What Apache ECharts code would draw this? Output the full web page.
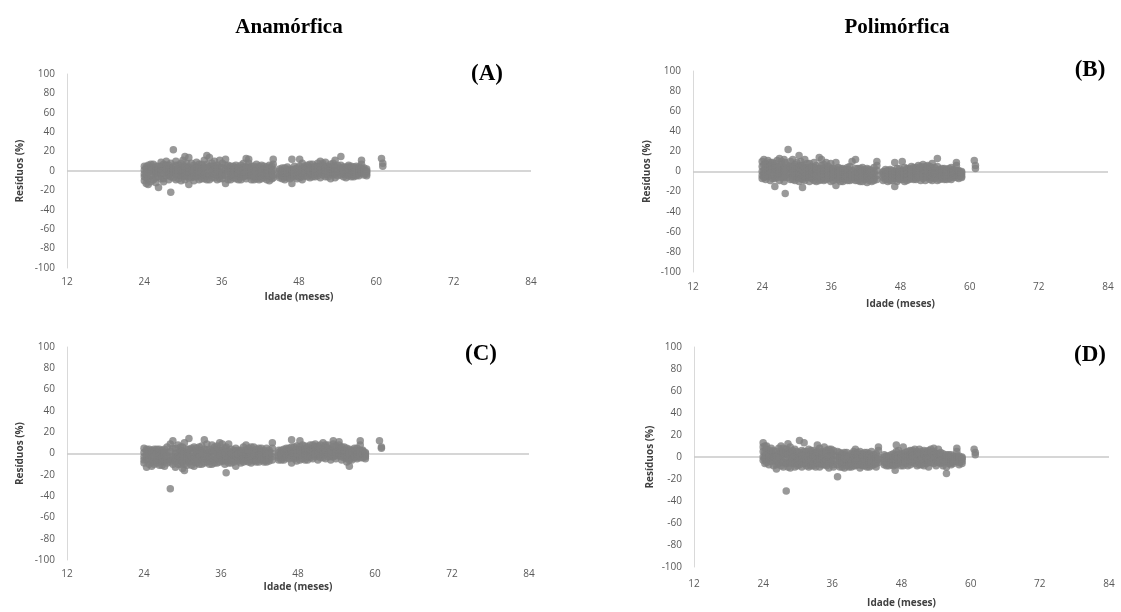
<!DOCTYPE html>
<html>
<head>
<meta charset="utf-8">
<script src="https://cdn.jsdelivr.net/npm/echarts@6/dist/echarts.min.js"></script>
<style>
  html, body { margin: 0; padding: 0; background: #ffffff; }
  #chart { width: 1121px; height: 612px; }
</style>
</head>
<body>
<div id="chart"></div>
<script>
// Residuals (%) by age (months). Each row: [age, residual, residual, ...]
const residA = [
  [24.0, -3, 5, -10, 1, -6], [24.3, 2, -7, -13, -3, 4], [24.6, 6, -1, -14, -8, 2], [25.0, 0, -5, 4, -11, 7],
  [25.4, -9, 3, 7, -4, 0], [25.8, -2, -12, 1, 5, -7], [26.2, 5, -6, -17, -1, 2], [26.6, 9, -3, 1, -8, 5],
  [27.0, 3, -8, -11, -2, 7], [27.4, 10, -1, 6, -5, 2], [27.8, -4, 2, -9, 6, -1], [28.1, -22, 8, -2, 3, -6],
  [28.5, 22, 4, -7, -1, 1], [28.9, 10, -3, 1, 6, -9], [29.3, -8, 6, -1, 2, -4], [29.7, 3, -10, 8, -5, 0],
  [30.0, -5, 1, 11, -2, 5], [30.3, 15, -2, -9, 4, -5], [30.6, 5, -6, 2, -1, 8], [30.9, 14, -14, -1, 3, -7],
  [31.3, 3, -7, 8, -2, 1], [31.7, -3, 6, -10, 2, -6], [32.1, 1, -6, 9, -2, 4], [32.5, -9, 4, -2, 7, -5],
  [32.9, 7, -4, 2, -8, 0], [33.3, 11, -8, -1, 4, -4], [33.7, 16, 3, -5, -9, 7], [34.1, 14, 0, -9, 5, -4],
  [34.5, 8, -3, 5, -7, 1], [34.9, -7, 2, 10, -3, 5], [35.3, 0, -9, 6, -4, 3], [35.7, 4, -5, 11, -1, -8],
  [36.1, -2, 8, -8, 3, -5], [36.6, 12, -13, 1, -4, 6], [37.0, 3, -6, 6, -9, 0], [37.4, -4, 2, -9, 5, -1],
  [37.8, 5, -2, -7, 1, -4], [38.2, 0, -8, 3, -4, 6], [38.6, -5, 1, 4, -9, -2], [39.0, 6, -9, -3, 2, -6],
  [39.4, -6, 2, 8, -2, 4], [39.8, 13, -2, -8, 4, -5], [40.2, 12, 4, -5, -1, 8], [40.6, -1, -9, 5, -5, 2],
  [41.0, 2, -6, -1, -9, 5], [41.4, 7, -8, 1, -3, 3], [41.8, -3, 5, -9, 0, -6], [42.2, 6, -4, 0, -8, 2],
  [42.6, -7, 2, -2, 5, -4], [43.0, 1, -9, 4, -5, -2], [43.4, -5, 3, -10, 0, 6], [43.8, 5, -2, -8, -5, 1],
  [44.0, 12, 7, -4, 1, -7], [45.0, -3, -7, 2, -5, 0], [45.4, -5, 0, -8, -2, 3], [45.8, 3, -6, -2, -9, 0],
  [46.2, -4, 1, -7, -1, 4], [46.6, 2, -5, -1, -8, 0], [46.9, -13, 12, -3, -6, 1], [47.3, 0, -6, 5, -3, 2],
  [47.7, -2, 3, -8, 1, -5], [48.1, 12, -4, 1, -7, 5], [48.5, 8, -9, -3, 2, -6], [48.9, 3, -5, 0, 5, -2],
  [49.3, -2, 6, -6, 1, 3], [49.7, 4, -1, -4, 7, -7], [50.1, 1, -6, 7, -3, 3], [50.5, -3, 5, -1, 2, -6],
  [50.9, 8, 2, -5, -2, 5], [51.3, -2, 10, -7, 4, 1], [51.7, 6, -4, 1, -1, 8], [52.1, 9, -3, 3, -6, 0],
  [52.5, -6, 0, 5, 2, -3], [52.9, 2, -8, 7, -2, 4], [53.3, -4, 4, -2, 8, 1], [53.6, 11, -7, 1, -3, 5],
  [54.0, 3, -5, 6, -1, 0], [54.5, 15, -1, -4, 3, 6], [54.9, 2, -6, 4, -3, 0], [55.3, -3, 1, -7, 4, -1],
  [55.7, 4, -2, -5, 1, 6], [56.1, 0, 3, -6, -3, 5], [56.5, 2, -4, -1, 4, -6], [56.9, -5, 5, -2, 0, 2],
  [57.3, 1, -3, 4, -5, -1], [57.7, 11, 7, -2, 3, 0], [58.1, -4, 0, 3, -2, 1], [58.5, -1, 2, -5, -3, 0],
  [60.8, 13], [61.0, 8, 5]
];

const residB = [
  [24.0, 5, -4, 10, 0, -7], [24.3, 12, -6, 1, 7, -2], [24.6, 8, -2, -8, 3, -5], [25.0, 3, 11, -5, -1, 6],
  [25.4, -1, 6, -9, 2, 9], [25.8, 9, -4, 2, -7, 5], [26.2, -15, 4, -7, 0, 8], [26.6, 11, 0, -3, 5, -6],
  [27.0, 13, -9, 5, -2, 1], [27.4, 7, -2, 2, 10, -6], [27.8, 12, -6, -10, 3, 0], [28.0, -22, 4, 9, -4, 1],
  [28.5, 22, -1, 6, -6, 3], [28.9, 10, -8, 2, 5, -3], [29.3, 5, -4, 12, 0, -8], [29.7, -9, 0, 7, 3, -4],
  [30.0, 3, -6, 9, -2, 5], [30.4, 16, -2, -10, 4, -6], [30.7, 10, 2, -7, -3, 6], [31.0, -16, 6, -4, 1, -8],
  [31.4, 12, -1, -9, 4, -5], [31.8, 4, -6, 1, 8, -3], [32.2, -3, 8, -10, 2, -6], [32.6, 5, -7, 0, -3, 3],
  [33.0, 9, -2, -9, 4, -5], [33.4, 1, -10, 6, -4, 3], [33.9, 14, 3, -5, -9, 0], [34.3, 12, -3, -8, 2, 6],
  [34.7, 7, -9, 0, -5, 3], [35.1, -4, 2, 9, -8, -1], [35.5, 5, -7, -1, 2, -4], [35.9, -2, 8, -10, -6, 3],
  [36.3, 3, -5, 1, -9, -2], [36.8, -14, 9, -3, -7, 2], [37.2, -8, 4, -1, -5, 1], [37.6, 1, -6, -10, -3, 3],
  [38.0, -3, 3, -7, -10, 0], [38.4, -8, 0, -4, 2, -6], [38.8, 2, -9, -5, -1, 4], [39.2, -6, 1, 5, -9, -3],
  [39.6, 10, -3, -8, 1, -5], [40.2, 12, -1, -6, 3, -9], [40.6, -9, 3, -4, -1, -6], [41.0, 1, -7, -2, -10, 3],
  [41.4, 4, -10, -5, -2, 0], [41.8, -3, 0, -8, 2, -6], [42.2, 3, -6, -11, -1, -4], [42.6, -2, 2, -9, -6, 0],
  [43.0, -5, 1, -10, -7, -2], [43.4, 0, -7, 4, -3, -9], [43.9, 10, -4, 6, -8, 1], [45.0, -6, -1, -9, -3, 0],
  [45.4, -3, -8, 0, -5, 2], [45.8, -5, -10, -2, -7, 1], [46.2, 2, -7, -4, -9, -1], [46.6, -1, -6, -9, -3, 1],
  [47.0, -15, 9, -3, -7, 0], [47.4, -7, 0, -10, -4, 3], [47.8, 3, -5, -2, -8, 0], [48.3, 10, -8, 1, -4, -1],
  [48.7, 4, -3, -10, -6, 0], [49.1, -6, 1, -2, -9, 3], [49.5, 3, -8, -4, 0, -1], [49.9, -1, 5, -7, -3, 2],
  [50.3, 2, -5, 0, -8, 4], [50.7, -3, 4, -8, 0, -6], [51.1, 6, -2, -6, 1, -4], [51.5, 0, -9, 3, -4, 5],
  [51.9, 7, -4, -1, -7, 2], [52.3, -2, 5, -9, -5, 1], [52.7, 3, -6, 0, -3, 6], [53.1, -8, 2, -3, 5, -5],
  [53.5, 8, -1, -6, 3, -9], [53.9, 1, -7, 4, -3, -1], [54.4, 13, -3, -9, 1, 5], [54.8, 2, -5, 0, -8, -2],
  [55.2, -7, 3, -2, -5, 0], [55.6, -4, 1, -8, 3, -6], [56.0, 0, -6, 2, -3, -8], [56.4, -3, 3, -7, 0, -5],
  [56.8, -5, 0, -1, 4, -8], [57.2, 2, -6, -3, 0, -1], [57.7, 9, 6, -4, 1, -6], [58.1, -2, -7, 1, -4, 0],
  [58.6, -5, 0, -3, -1, -6], [60.8, 11], [61.0, 6, 3]
];

const residC = [
  [24.0, -3, 5, -9, 1, -6], [24.4, -13, 2, -6, -2, 4], [24.8, 4, -10, -2, -6, 1], [25.2, -5, 1, -12, 3, -8],
  [25.6, 2, -7, -3, -10, 4], [26.0, -4, 4, -9, 0, -6], [26.4, -11, 1, -6, 4, -2], [26.8, 3, -8, 0, -4, -11],
  [27.2, -3, 4, -12, -7, 1], [27.6, 1, -6, 6, -9, -2], [28.1, -33, -4, 9, 2, -8], [28.5, 12, -2, -10, 5, -6],
  [28.9, 5, -13, -7, 0, -3], [29.3, 1, -5, 8, -10, -2], [29.7, -10, -3, 3, 6, -7], [30.0, 6, -8, -14, -1, 2],
  [30.3, -16, 1, 10, -5, -10], [30.7, -6, 4, -11, -2, 1], [31.0, 14, -2, -8, 4, -5], [31.4, 3, -7, 5, -11, -3],
  [31.8, -4, 1, -12, 6, -8], [32.2, 5, -9, -1, -5, 2], [32.6, -6, 3, -3, -10, 6], [33.0, 2, -10, 7, -4, -1],
  [33.4, 13, -5, 0, 4, -9], [33.8, 9, -2, -8, 3, -5], [34.2, 4, -7, 1, -10, -3], [34.6, -3, 8, -10, 2, -6],
  [35.0, 6, -6, -1, 3, -9], [35.4, 1, -9, 4, -4, 7], [35.8, -5, 10, -2, 3, -8], [36.2, 3, -7, 9, -3, 0],
  [36.6, -4, 1, -10, 5, -7], [36.8, -18, 6, -2, -6, 2], [37.2, 2, -6, 9, -3, -9], [37.6, -3, 4, -9, 0, -6],
  [38.0, 1, -5, 3, -8, -2], [38.3, -12, -2, 2, -6, 5], [38.7, 0, -7, -4, 3, -1], [39.1, 3, -3, -9, -6, 1],
  [39.5, -5, 1, 6, -2, -8], [39.9, 8, -4, -1, 3, -7], [40.3, 5, -8, 2, -3, -5], [40.7, -2, 3, -6, 6, -9],
  [41.1, 1, -7, 6, -3, -1], [41.5, -4, 2, -8, 4, -6], [41.9, 5, -1, -5, 2, -8], [42.3, -6, 2, 0, -3, 5],
  [42.7, 3, -4, -8, 0, -6], [43.1, -2, 5, -6, 1, -8], [43.5, 1, -7, 3, -4, -1], [44.0, 10, 5, -3, 0, -6],
  [45.0, -4, 1, -6, -2, 3], [45.4, 0, -3, 3, -6, -1], [45.8, -2, -6, 1, 4, -4], [46.2, 3, -4, 0, -2, 5],
  [46.6, -1, 5, -2, 2, -5], [47.0, 13, -9, 2, -3, 6], [47.4, -3, 6, -5, 1, -1], [47.8, 4, 0, -7, -3, 7],
  [48.3, 12, -2, 3, -6, 6], [48.7, 8, -5, 1, -2, 4], [49.1, -1, 4, -6, 2, 7], [49.5, 6, -3, 1, 4, -6],
  [49.9, -4, 8, 0, 3, -2], [50.3, 2, -5, 5, 8, -1], [50.7, 9, -1, -3, 3, 6], [51.1, 3, -6, 7, 0, -2],
  [51.5, -2, 5, 0, 8, -4], [51.9, 10, -4, 2, 5, -1], [52.3, 6, -1, -5, 3, 8], [52.7, -3, 3, 8, 0, 5],
  [53.1, 0, -6, 4, 2, -3], [53.5, 12, -3, 6, 1, 9], [53.9, 2, -5, 1, 7, -2], [54.4, 11, -2, 5, 0, 8],
  [54.8, -6, 3, -1, 6, -3], [55.2, 1, -4, 6, -1, 3], [55.6, -8, 2, -3, 5, -5], [56.0, -12, 4, 0, -6, 2],
  [56.4, -2, 1, -6, 3, -4], [56.8, 3, -4, 0, -2, 5], [57.2, -1, 5, -5, 2, -3], [57.7, 12, 8, -2, 3, -4],
  [58.1, 3, -4, 0, -1, 2], [58.5, -2, 1, -5, -3, 0], [60.7, 12], [61.0, 6, 5]
];

const residD = [
  [24.0, 5, -3, 13, 0, 9], [24.3, 10, -6, 1, 4, -2], [24.6, 7, -2, -5, 2, 10], [25.0, 3, -7, 6, -1, 0],
  [25.4, -1, 5, -4, 8, 2], [25.8, 6, -8, 2, -3, 0], [26.3, -11, 1, -4, 5, -7], [26.7, 8, -6, 3, -1, 0],
  [27.1, 10, -3, -8, 2, 5], [27.5, 4, -9, 0, -5, 8], [28.0, -31, 7, -2, 3, -6], [28.3, 12, -5, 2, -9, 6],
  [28.7, 9, -10, -1, 4, -5], [29.1, 3, -6, 6, -2, 0], [29.5, -3, 7, -9, 1, -6], [29.9, 5, -4, 1, -8, -1],
  [30.3, 15, -7, 0, 4, -3], [30.7, 6, -2, -9, 2, -5], [31.1, 13, 2, -6, -2, 5], [31.5, -3, 5, -8, 1, -5],
  [31.9, 2, -6, 7, -2, -9], [32.3, -4, 3, -1, -8, 6], [32.7, 6, -8, 0, -4, 3], [33.1, -2, 4, -6, 1, -9],
  [33.4, 11, -5, 1, -2, 5], [33.8, 8, -3, -9, 2, -6], [34.2, 3, -7, 5, -2, 0], [34.6, -1, 9, -4, 3, -7],
  [35.0, 6, -8, 0, -3, 4], [35.4, -3, 7, -10, 1, -6], [35.8, 4, -5, 1, 7, -2], [36.2, -7, 2, 6, -3, -9],
  [36.9, -18, 5, -3, -7, 1], [37.3, 1, -9, 4, -4, -1], [37.7, -4, 3, -6, -9, 0], [38.1, 2, -10, -1, -5, 4],
  [38.5, -5, 4, -3, -8, 0], [38.9, 0, -7, 1, -3, -9], [39.3, -3, 3, -9, -6, 0], [39.7, 5, -5, -1, -8, 2],
  [40.0, 7, -2, -8, 3, -5], [40.4, 2, -7, 4, -3, -1], [40.8, -4, 5, -10, 0, -7], [41.2, 1, -5, 3, -8, -2],
  [41.6, -8, 2, -2, -5, 4], [42.0, 4, -6, -1, -9, 1], [42.4, -3, 1, -9, -6, 3], [42.8, 0, -5, 5, -8, -2],
  [43.2, -7, 2, -2, -4, 0], [43.6, 3, -9, -4, -1, -6], [44.0, 9, 6, -5, 0, -2], [45.0, -3, -7, 0, -5, 2],
  [45.4, -6, 1, -2, -8, -4], [45.8, -1, -5, -8, 1, -3], [46.2, 2, -4, -7, -1, -6], [46.6, -2, 0, -5, 3, -8],
  [46.9, -12, 2, -6, -3, 0], [47.1, 11, -3, 5, -7, 1], [47.5, -1, -6, 2, -4, 6], [47.9, 3, -4, -8, 0, -1],
  [48.3, 9, 0, -5, 3, -8], [48.7, -2, 4, -6, 1, -4], [49.1, 2, -8, 0, -3, 5], [49.5, -4, 6, -2, 1, -7],
  [49.9, 4, -5, 1, -2, 6], [50.3, -1, 7, -6, 2, -3], [50.7, 3, -3, -8, 0, 5], [51.1, 7, 1, -4, -7, 3],
  [51.5, -2, 5, -7, 0, -4], [51.9, 1, -5, 3, -8, 6], [52.3, -6, 2, -1, 5, -3], [52.7, 6, -3, -9, 1, -5],
  [53.1, 0, 4, -5, -2, 7], [53.6, 8, -2, 2, -6, 5], [54.0, -4, 3, -8, 0, -1], [54.4, 7, 0, -5, 3, -2],
  [54.8, -1, -6, 2, -3, 4], [55.2, 3, -8, -3, 0, -5], [55.8, -15, -9, 0, -4, 2], [56.2, -2, 2, -6, -4, 0],
  [56.6, -5, 0, -3, 2, -7], [57.0, 1, -6, -2, -4, 0], [57.6, 8, 5, -4, 1, -2], [58.0, -3, -7, 1, -1, -5],
  [58.5, -1, -4, 0, -6, -2], [60.6, 7], [60.8, 2, 4]
];

const panelTags = ['(A)', '(B)', '(C)', '(D)'];
const columnTitles = ['Anamórfica', 'Polimórfica'];
const xName = 'Idade (meses)';
const yName = 'Resíduos (%)';

// Flatten [age, r1, r2, ...] rows into [age, r] points
function toPoints(rows) {
  const pts = [];
  rows.forEach(function (row) {
    for (let i = 1; i < row.length; i++) pts.push([row[0], row[i]]);
  });
  return pts;
}

// Plot-area geometry of each panel
const grids = [
  { left: 67,  top: 74,  width: 464, height: 194 },
  { left: 693, top: 71,  width: 415, height: 201 },
  { left: 67,  top: 347, width: 462, height: 213 },
  { left: 694, top: 347, width: 415, height: 220 }
];
const xLabelMargin = [9, 10, 9, 12];
const xNameGap = [24, 27, 22, 31];
const yNameGap = [42, 41, 42, 39];
const tagPos = [[487, 74], [1090, 70], [481, 354], [1090, 355]];
const titlePos = [[289, 28], [897, 28]];

const labelFont = '"Open Sans", "DejaVu Sans", sans-serif';
const serifFont = '"Liberation Serif", "DejaVu Serif", serif';
const datasets = [residA, residB, residC, residD];

// Zero reference line of each panel, drawn beneath the points
const zeroLines = grids.map(function (g, i) {
  return {
    type: 'scatter', xAxisIndex: i, yAxisIndex: i, data: [], silent: true, z: 1,
    markLine: {
      silent: true, symbol: 'none', animation: false, z: 1,
      label: { show: false },
      lineStyle: { color: '#c8c8c8', width: 1.5, type: 'solid' },
      data: [{ yAxis: 0 }]
    }
  };
});

const option = {
  animation: false,
  backgroundColor: '#ffffff',
  grid: grids.map(function (g) { return Object.assign({ containLabel: false }, g); }),
  xAxis: grids.map(function (g, i) {
    return {
      type: 'value', gridIndex: i, min: 12, max: 84, interval: 12,
      name: xName, nameLocation: 'middle', nameGap: xNameGap[i],
      nameTextStyle: { fontFamily: labelFont, fontSize: 10, fontWeight: 'bold', color: '#404040' },
      axisLine: { show: false }, axisTick: { show: false }, splitLine: { show: false },
      axisLabel: { margin: xLabelMargin[i], fontFamily: labelFont, fontSize: 10, color: '#595959' }
    };
  }),
  yAxis: grids.map(function (g, i) {
    return {
      type: 'value', gridIndex: i, min: -100, max: 100, interval: 20,
      name: yName, nameLocation: 'middle', nameGap: yNameGap[i],
      nameTextStyle: { fontFamily: labelFont, fontSize: 10, fontWeight: 'bold', color: '#404040' },
      axisLine: { show: true, lineStyle: { color: '#d9d9d9', width: 1 } },
      axisTick: { show: false }, splitLine: { show: false },
      axisLabel: { margin: 12, fontFamily: labelFont, fontSize: 10, color: '#595959' }
    };
  }),
  series: zeroLines.concat(datasets.map(function (rows, i) {
    return {
      type: 'scatter', xAxisIndex: i, yAxisIndex: i,
      data: toPoints(rows),
      symbol: 'circle', symbolSize: 7.5,
      itemStyle: { color: '#7f7f7f' },
      silent: true,
      z: 10
    };
  })),
  graphic: columnTitles.map(function (t, i) {
    return {
      type: 'text', x: titlePos[i][0], y: titlePos[i][1],
      style: { text: t, font: 'bold 21px ' + serifFont, fill: '#000',
               textAlign: 'center', textVerticalAlign: 'middle' }
    };
  }).concat(panelTags.map(function (t, i) {
    return {
      type: 'text', x: tagPos[i][0], y: tagPos[i][1],
      style: { text: t, font: 'bold 23px ' + serifFont, fill: '#000',
               textAlign: 'center', textVerticalAlign: 'middle' }
    };
  }))
};

const chart = echarts.init(document.getElementById('chart'), null, { renderer: 'canvas' });
chart.setOption(option);
</script>
</body>
</html>
